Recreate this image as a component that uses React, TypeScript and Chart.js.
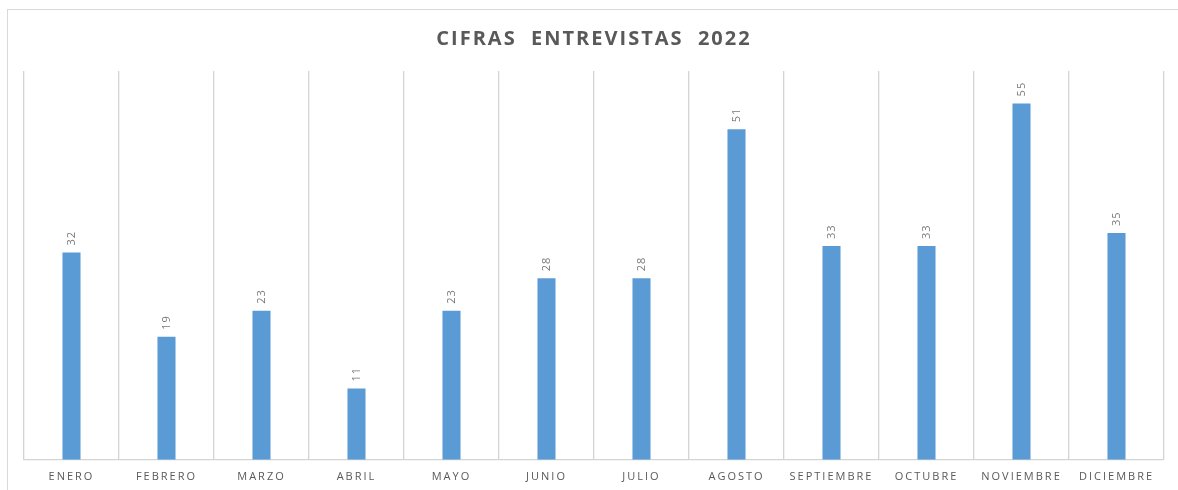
import React, { useEffect, useRef } from "react";
import { Chart, registerables } from "chart.js";

Chart.register(...registerables);

const categories = ["ENERO", "FEBRERO", "MARZO", "ABRIL", "MAYO", "JUNIO", "JULIO", "AGOSTO", "SEPTIEMBRE", "OCTUBRE", "NOVIEMBRE", "DICIEMBRE"];
const values = [32, 19, 23, 11, 23, 28, 28, 51, 33, 33, 55, 35];
const chartTitle = "CIFRAS  ENTREVISTAS  2022";

const GRAY = "#595959";
const LABEL_GRAY = "#7a7a7a";
const GRID = "#d4d4d4";
const BAR = "#5b9bd5";

const spacingPlugin = {
  id: "spacing",
  beforeDraw(chart: any) {
    chart.ctx.letterSpacing = "2px";
  },
};

const valueLabels = {
  id: "valueLabels",
  afterDatasetsDraw(chart: any) {
    const ctx = chart.ctx;
    const meta = chart.getDatasetMeta(0);
    ctx.save();
    ctx.letterSpacing = "1px";
    ctx.font = "11px 'Open Sans', sans-serif";
    ctx.fillStyle = LABEL_GRAY;
    ctx.textAlign = "left";
    ctx.textBaseline = "middle";
    meta.data.forEach((el: any, i: number) => {
      ctx.save();
      ctx.translate(el.x, el.y - 7);
      ctx.rotate(-Math.PI / 2);
      ctx.fillText(String(values[i]), 0, 0);
      ctx.restore();
    });
    ctx.restore();
  },
};

export default function App() {
  const ref = useRef<HTMLCanvasElement | null>(null);
  useEffect(() => {
    if (!ref.current) return;
    const chart = new Chart(ref.current, {
      type: "bar",
      data: {
        labels: categories,
        datasets: [
          {
            data: values,
            backgroundColor: BAR,
            categoryPercentage: 1,
            barPercentage: 0.19,
          },
        ],
      },
      options: {
        animation: false,
        responsive: false,
        maintainAspectRatio: false,
        layout: { padding: { left: 24, right: 14, top: 0, bottom: 7 } },
        plugins: {
          legend: { display: false },
          tooltip: { enabled: false },
          title: {
            display: true,
            text: chartTitle,
            color: GRAY,
            font: { family: "'Open Sans', sans-serif", size: 20, weight: "bold" },
            padding: { top: 27, bottom: 20 },
          },
        },
        scales: {
          x: {
            grid: { display: true, color: GRID, lineWidth: 1.3, drawTicks: false, offset: true },
            border: { display: true, color: GRID, width: 1.3 },
            ticks: {
              color: GRAY,
              font: { family: "'Open Sans', sans-serif", size: 11 },
              padding: 10,
              maxRotation: 0,
              autoSkip: false,
            },
          },
          y: {
            display: false,
            min: 0,
            max: 60,
          },
        },
      },
      plugins: [spacingPlugin, valueLabels],
    });
    return () => chart.destroy();
  }, []);
  return (
    <div style={{ position: "fixed", left: 0, top: 0, width: 1178, height: 490, overflow: "hidden", background: "#fff" }}>
      <div style={{ position: "absolute", left: 7, top: 9, width: 1300, height: 600, border: "1px solid #d9d9d9" }} />
      <canvas ref={ref} width={1178} height={500} style={{ position: "absolute", left: 0, top: 0, width: 1178, height: 500 }} />
    </div>
  );
}
